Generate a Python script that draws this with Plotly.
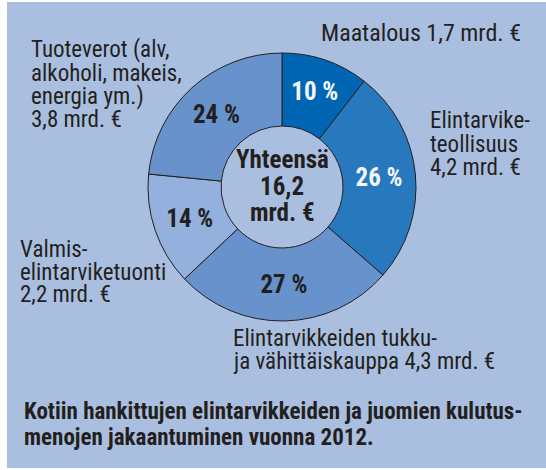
import plotly.graph_objects as go

W, H = 546, 470

categories = ["Maatalous", "Elintarviketeollisuus",
              "Elintarvikkeiden tukku- ja vähittäiskauppa",
              "Valmiselintarviketuonti", "Tuoteverot"]
values = [1.7, 4.2, 4.3, 2.2, 3.8]
pct_labels = ["10 %", "26 %", "27 %", "14 %", "24 %"]
slice_colors = ["#0066b3", "#2878be", "#6892cb", "#94b0dc", "#6892cb"]
pct_colors = ["#f4f6fb", "#f4f6fb", "#231f20", "#231f20", "#231f20"]

label_lines = [
    ["Maatalous 1,7 mrd. €"],
    ["Elintarvike-", "teollisuus", "4,2 mrd. €"],
    ["Elintarvikkeiden tukku-", "ja vähittäiskauppa 4,3 mrd. €"],
    ["Valmis-", "elintarviketuonti", "2,2 mrd. €"],
    ["Tuoteverot (alv,", "alkoholi, makeis,", "energia ym.)", "3,8 mrd. €"],
]
center_lines = ["Yhteensä", "16,2", "mrd. €"]
caption_lines = ["Kotiin hankittujen elintarvikkeiden ja juomien kulutus-",
                 "menojen jakaantuminen vuonna 2012."]

FONT = "Roboto Condensed, Liberation Sans Narrow, Arial Narrow, sans-serif"
TXT = "#231f20"
BG = "#aabfe0"


def px(x):
    return x / W


def py(y):
    return 1 - y / H


cx, cy, R = 282, 187, 134

fig = go.Figure()
fig.add_trace(go.Pie(
    labels=categories, values=values, text=pct_labels,
    textinfo="text", textposition="inside", insidetextorientation="horizontal",
    sort=False, direction="clockwise", rotation=0, hole=0.455,
    marker=dict(colors=slice_colors, line=dict(color=TXT, width=1)),
    textfont=dict(family=FONT, size=25, color=pct_colors, weight="bold"),
    domain=dict(x=[px(cx - R), px(cx + R)], y=[py(cy + R), py(cy - R)]),
    showlegend=False, hoverinfo="label+value",
))

annotations = []
# label blocks: (left x, first baseline, line spacing, font size)
label_pos = [(320, 41, 23.5, 24), (429, 128, 23.5, 23), (232, 346, 22.5, 23),
             (19, 257, 22.5, 23), (30, 57, 23.5, 23)]
for lines, (x0, b0, sp, fs) in zip(label_lines, label_pos):
    for i, t in enumerate(lines):
        base = b0 + i * sp
        annotations.append(dict(
            x=px(x0), y=py(base - 7.5), xref="paper", yref="paper",
            xanchor="left", yanchor="middle", showarrow=False, text=t,
            borderpad=0, font=dict(family=FONT, size=fs, color=TXT)))

for i, t in enumerate(center_lines):
    base = 168 + i * 26.5
    annotations.append(dict(
        x=px(cx), y=py(base - 8.5), xref="paper", yref="paper",
        xanchor="center", yanchor="middle", showarrow=False, text=t,
        borderpad=0, font=dict(family=FONT, size=25, color=TXT, weight="bold")))

for i, t in enumerate(caption_lines):
    base = 419 + i * 26.5
    annotations.append(dict(
        x=px(23), y=py(base - 8), xref="paper", yref="paper",
        xanchor="left", yanchor="middle", showarrow=False, text=t,
        borderpad=0, font=dict(family=FONT, size=23, color=TXT, weight="bold")))

fig.update_layout(
    width=W, height=H, margin=dict(l=0, r=0, t=0, b=0),
    paper_bgcolor="white", plot_bgcolor="white",
    shapes=[dict(type="rect", xref="paper", yref="paper",
                 x0=px(7), x1=1, y0=py(468), y1=py(2),
                 fillcolor=BG, line=dict(width=0), layer="below")],
    annotations=annotations,
)

fig.write_html("out.html", config={"displayModeBar": False},
               post_script="document.body.style.margin='0';document.body.style.padding='0';")
